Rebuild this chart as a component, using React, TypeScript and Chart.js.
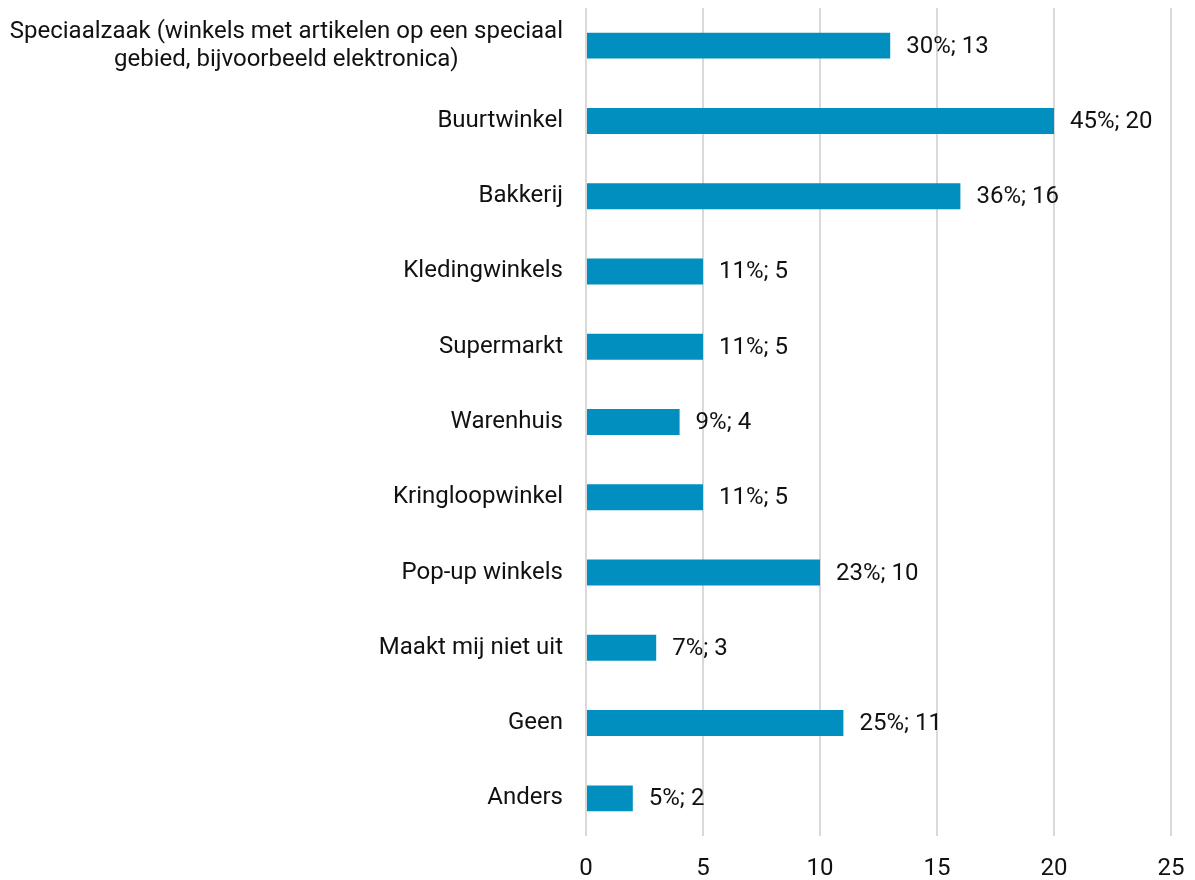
import React, { useEffect, useRef } from "react";
import { Chart, registerables } from "chart.js";

Chart.register(...registerables);

const categories: string[][] = [
  ["Speciaalzaak (winkels met artikelen op een speciaal", "gebied, bijvoorbeeld elektronica)"],
  ["Buurtwinkel"],
  ["Bakkerij"],
  ["Kledingwinkels"],
  ["Supermarkt"],
  ["Warenhuis"],
  ["Kringloopwinkel"],
  ["Pop-up winkels"],
  ["Maakt mij niet uit"],
  ["Geen"],
  ["Anders"],
];
const counts = [13, 20, 16, 5, 5, 4, 5, 10, 3, 11, 2];
const percents = [30, 45, 36, 11, 11, 9, 11, 23, 7, 25, 5];
const xTicks = [0, 5, 10, 15, 20, 25];

const FONT = "Roboto, 'Noto Sans', sans-serif";
const TEXT = "#111111";
const FS = 24;

const labelPlugin = {
  id: "customLabels",
  afterDatasetsDraw(chart: any) {
    const ctx = chart.ctx;
    const meta = chart.getDatasetMeta(0);
    const yScale = chart.scales.y;
    ctx.save();
    ctx.font = `${FS}px ${FONT}`;
    ctx.fillStyle = TEXT;
    ctx.textBaseline = "middle";
    meta.data.forEach((bar: any, i: number) => {
      ctx.textAlign = "left";
      ctx.fillText(`${percents[i]}%; ${counts[i]}`, bar.x + 16, bar.y + 1);
    });
    const right = chart.chartArea.left - 23;
    categories.forEach((lines, i) => {
      const y = yScale.getPixelForValue(i);
      const widths = lines.map((l) => ctx.measureText(l).width);
      const maxW = Math.max(...widths);
      const lh = 28;
      const startY = y - ((lines.length - 1) * lh) / 2;
      ctx.textAlign = "center";
      lines.forEach((l, j) => {
        ctx.fillText(l, right - maxW / 2, startY + j * lh);
      });
    });
    ctx.restore();
  },
};

export default function App() {
  const ref = useRef<HTMLCanvasElement | null>(null);
  useEffect(() => {
    if (!ref.current) return;
    const chart = new Chart(ref.current, {
      type: "bar",
      data: {
        labels: categories.map((c) => c.join(" ")),
        datasets: [
          {
            data: counts,
            backgroundColor: "rgb(0,143,191)",
            categoryPercentage: 1,
            barPercentage: 0.345,
          },
        ],
      },
      options: {
        indexAxis: "y",
        animation: false,
        responsive: false,
        maintainAspectRatio: false,
        layout: { padding: { top: 8, right: 24, bottom: 0, left: 0 } },
        plugins: {
          legend: { display: false },
          tooltip: { enabled: false },
          title: { display: false },
        },
        scales: {
          x: {
            min: 0,
            max: 25,
            afterBuildTicks(axis: any) {
              axis.ticks = xTicks.map((v) => ({ value: v }));
            },
            afterFit(axis: any) {
              axis.height = 44;
              axis.paddingRight = 0;
              axis.paddingLeft = 0;
            },
            grid: { color: "#d9d9d9", lineWidth: 2, drawTicks: false },
            border: { display: false },
            ticks: {
              font: { family: FONT, size: FS },
              color: TEXT,
              padding: 19,
            },
          },
          y: {
            afterFit(axis: any) {
              axis.width = 586;
            },
            grid: { display: false },
            border: { display: false },
            ticks: { display: false },
          },
        },
      },
      plugins: [labelPlugin],
    });
    return () => chart.destroy();
  }, []);
  return (
    <div style={{ position: "fixed", left: 0, top: 0, width: 1195, height: 880, background: "#fff" }}>
      <canvas ref={ref} width={1195} height={880} style={{ width: 1195, height: 880 }} />
    </div>
  );
}
